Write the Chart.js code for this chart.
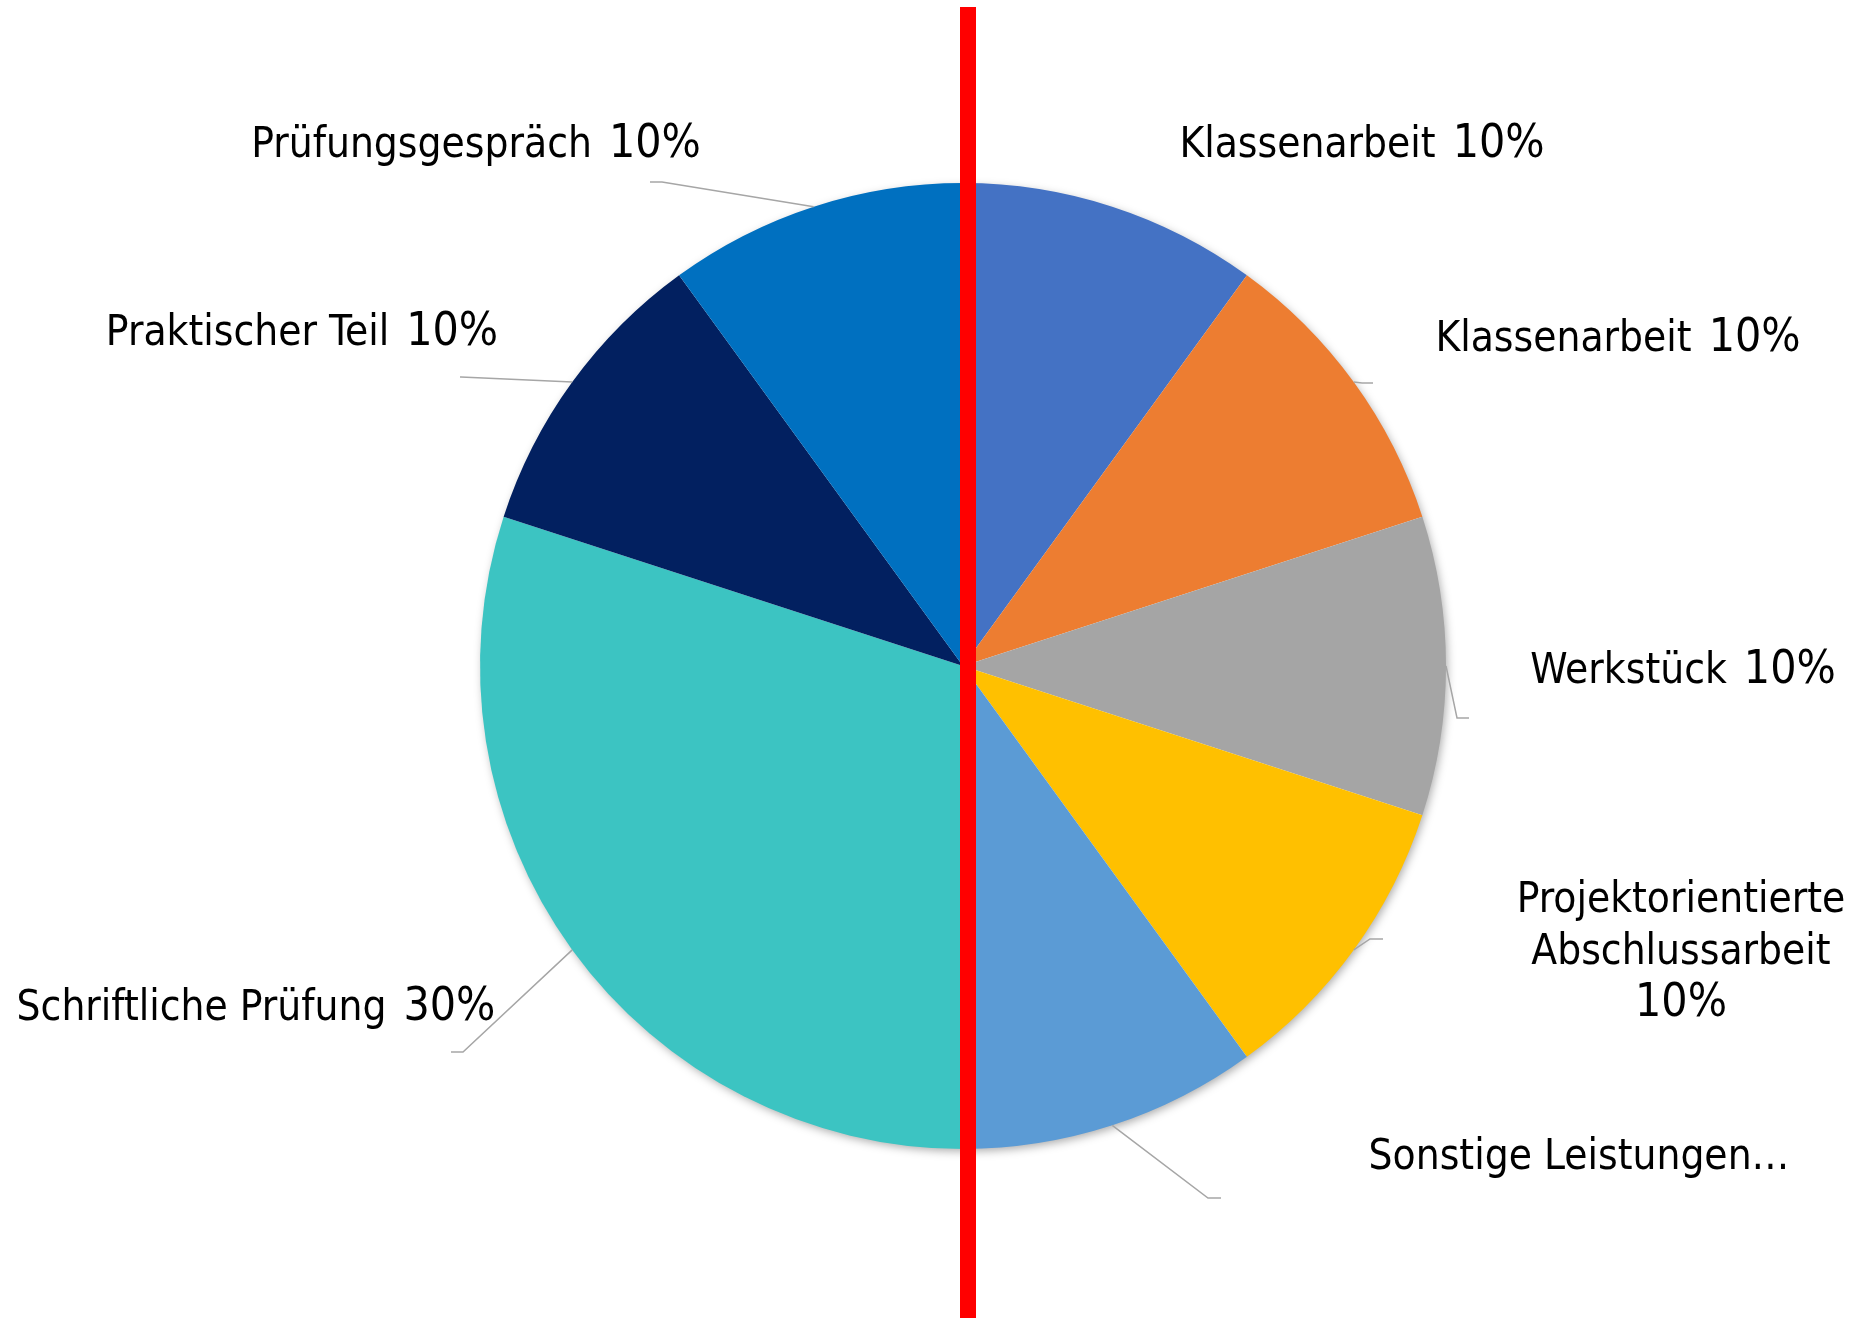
<!DOCTYPE html>
<html><head><meta charset="utf-8">
<script src="https://cdn.jsdelivr.net/npm/chart.js@4/dist/chart.umd.min.js"></script>
<style>html,body{margin:0;padding:0;background:#fff;overflow:hidden}</style>
</head><body>
<canvas id="c" width="1857" height="1318"></canvas>
<script>
// ---- data ----
const categories = ["Klassenarbeit","Klassenarbeit","Werkstück","Projektorientierte Abschlussarbeit","Sonstige Leistungen","Schriftliche Prüfung","Praktischer Teil","Prüfungsgespräch"];
const values = [10,10,10,10,10,30,10,10];
const sliceColors = ['#4472C4','#ED7D31','#A5A5A5','#FFC000','#5B9BD5','#3CC4C2','#022060','#0070C0'];

// ---- label layout (offsets from pie centre, px) ----
const labelLayout = [
  {dx:399, dy:-524, mode:'single'},
  {dx:655, dy:-330, mode:'single', elbow:[399,-283], end:[410,-283]},
  {dx:720, dy:2, mode:'single', elbow:[494,52], end:[506,52]},
  {dx:718, dy:283, mode:'wrap', elbow:[407,273], end:[420,273]},
  {dx:616, dy:488, mode:'truncate', elbow:[245,532], end:[258,532]},
  {dx:-707, dy:339, mode:'single', elbow:[-500,386], end:[-512,386]},
  {dx:-661, dy:-336, mode:'single', elbow:[-502,-289], end:[-503,-289]},
  {dx:-487, dy:-524, mode:'single', elbow:[-301,-484], end:[-313,-484]}
];
const NAME_SIZE = 42;
const VALUE_SIZE = 46;
const FAMILY = "'DejaVu Sans Condensed','DejaVu Sans',sans-serif";
const GAP = 17;
const LINE_H = 52;
const marker = {offset:5, width:16, top:7, color:'#FF0000'};

const total = values.reduce((a,b)=>a+b,0);
// each line = array of segments {t, s}
function labelLines(i){
  const pct = Math.round(values[i]/total*100) + '%';
  const m = labelLayout[i].mode;
  if (m === 'wrap') return categories[i].split(' ').map(w=>[{t:w,s:NAME_SIZE}]).concat([[{t:pct,s:VALUE_SIZE}]]);
  if (m === 'truncate') return [[{t:categories[i] + '…', s:NAME_SIZE}]];
  return [[{t:categories[i], s:NAME_SIZE},{t:pct, s:VALUE_SIZE}]];
}

const shadowPlugin = {
  id:'shadow',
  beforeDatasetsDraw(chart){
    const a = chart.getDatasetMeta(0).data[0];
    const ctx = chart.ctx;
    ctx.save();
    ctx.shadowColor = 'rgba(0,0,0,0.35)';
    ctx.shadowBlur = 10;
    ctx.shadowOffsetX = 2;
    ctx.shadowOffsetY = 3;
    ctx.fillStyle = '#ffffff';
    ctx.beginPath();
    ctx.arc(a.x, a.y, a.outerRadius-1, 0, Math.PI*2);
    ctx.fill();
    ctx.restore();
  }
};

const labelPlugin = {
  id:'labels',
  afterDatasetsDraw(chart){
    const ctx = chart.ctx;
    const meta = chart.getDatasetMeta(0);
    const cx = meta.data[0].x, cy = meta.data[0].y;
    meta.data.forEach((arc, i) => {
      const L = labelLayout[i];
      if (L.elbow){
        const mid = (arc.startAngle + arc.endAngle)/2;
        const r = arc.outerRadius;
        ctx.save();
        ctx.strokeStyle = '#A6A6A6';
        ctx.lineWidth = 1.5;
        ctx.beginPath();
        ctx.moveTo(cx + r*Math.cos(mid), cy + r*Math.sin(mid));
        ctx.lineTo(cx + L.elbow[0], cy + L.elbow[1]);
        ctx.lineTo(cx + L.end[0], cy + L.end[1]);
        ctx.stroke();
        ctx.restore();
      }
      const lines = labelLines(i);
      ctx.save();
      ctx.fillStyle = '#000000';
      ctx.textAlign = 'left';
      ctx.textBaseline = 'alphabetic';
      const n = lines.length;
      lines.forEach((segs, k) => {
        const my = cy + L.dy + (k - (n-1)/2)*LINE_H;
        const base = my + 0.365*NAME_SIZE;
        let w = 0;
        segs.forEach((sg, j) => {
          ctx.font = sg.s + 'px ' + FAMILY;
          sg.w = ctx.measureText(sg.t).width;
          w += sg.w + (j > 0 ? GAP : 0);
        });
        let x = cx + L.dx - w/2;
        segs.forEach((sg, j) => {
          if (j > 0) x += GAP;
          ctx.font = sg.s + 'px ' + FAMILY;
          ctx.fillText(sg.t, x, base);
          x += sg.w;
        });
      });
      ctx.restore();
    });
  },
  afterDraw(chart){
    const ctx = chart.ctx;
    const a = chart.getDatasetMeta(0).data[0];
    ctx.save();
    ctx.fillStyle = marker.color;
    ctx.fillRect(a.x + marker.offset - marker.width/2, marker.top, marker.width, chart.height - marker.top);
    ctx.restore();
  }
};

new Chart(document.getElementById('c'), {
  type:'pie',
  data:{
    labels:categories,
    datasets:[{data:values, backgroundColor:sliceColors, borderWidth:0, hoverOffset:0}]
  },
  options:{
    responsive:false,
    animation:false,
    devicePixelRatio:1,
    layout:{padding:{top:183, bottom:169, left:480, right:411}},
    plugins:{legend:{display:false}, tooltip:{enabled:false}}
  },
  plugins:[shadowPlugin, labelPlugin]
});
</script>
</body></html>
